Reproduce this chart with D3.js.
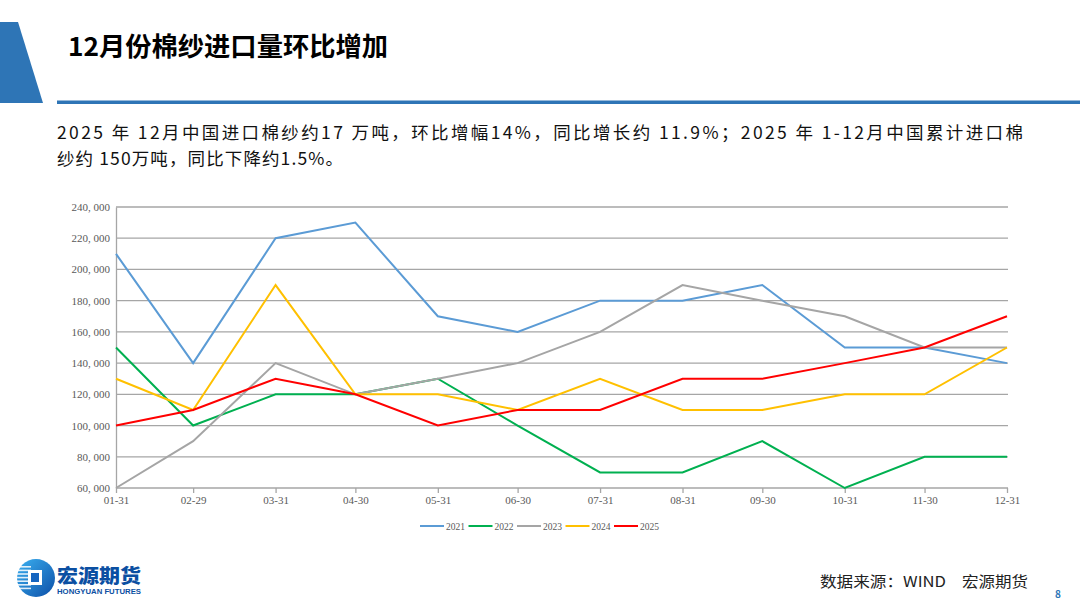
<!DOCTYPE html>
<html><head><meta charset="utf-8">
<script src="https://cdn.jsdelivr.net/npm/d3@7/dist/d3.min.js"></script>
<style>body{margin:0;background:#fff;}svg{display:block;}</style>
</head><body>
<svg id="c" width="1080" height="606"></svg>
<script>
const dates = ["2024-01-31","2024-02-29","2024-03-31","2024-04-30","2024-05-31","2024-06-30","2024-07-31","2024-08-31","2024-09-30","2024-10-31","2024-11-30","2024-12-31"];
const tickLabels = ["01-31","02-29","03-31","04-30","05-31","06-30","07-31","08-31","09-30","10-31","11-30","12-31"];
const yTicks = [60000,80000,100000,120000,140000,160000,180000,200000,220000,240000];
const seriesNames = ["2021","2022","2023","2024","2025"];
const seriesColors = ["#5b9bd5","#00b050","#a5a5a5","#ffc000","#ff0000"];
const v2021 = [210000,140000,220000,230000,170000,160000,180000,180000,190000,150000,150000,140000];
const v2022 = [150000,100000,120000,120000,130000,100000,70000,70000,90000,60000,80000,80000];
const v2023 = [60000,90000,140000,120000,130000,140000,160000,190000,180000,170000,150000,150000];
const v2024 = [130000,110000,190000,120000,120000,110000,130000,110000,110000,120000,120000,150000];
const v2025 = [100000,110000,130000,120000,100000,110000,110000,130000,130000,140000,150000,170000];
const seriesValues = [v2021,v2022,v2023,v2024,v2025];

const svg = d3.select("#c");
const parse = d3.timeParse("%Y-%m-%d");
const dd = dates.map(parse);

// header
svg.append("polygon").attr("points","0,22 18,22 43,103 0,103").attr("fill","#2e75b6");
svg.append("rect").attr("x",57).attr("y",100.5).attr("width",1023).attr("height",3.5).attr("fill","#2e75b6");
svg.append("text").attr("x",68).attr("y",56).attr("font-family","Noto Sans CJK SC").attr("font-weight","bold")
  .attr("font-size",26).attr("fill","#000").attr("textLength",320).attr("lengthAdjust","spacingAndGlyphs")
  .text("12月份棉纱进口量环比增加");

const bodyFont = "Noto Sans CJK SC";
svg.append("text").attr("x",57).attr("y",139).attr("font-family",bodyFont).attr("font-size",17.5).attr("fill","#111")
  .attr("textLength",966).attr("lengthAdjust","spacing")
  .text("2025 年 12月中国进口棉纱约17 万吨，环比增幅14%，同比增长约 11.9%；2025 年 1-12月中国累计进口棉");
svg.append("text").attr("x",57).attr("y",165).attr("font-family",bodyFont).attr("font-size",17.5).attr("fill","#111")
  .attr("textLength",286).attr("lengthAdjust","spacing")
  .text("纱约 150万吨，同比下降约1.5%。");

// chart
const x = d3.scaleTime().domain([dd[0], dd[dd.length-1]]).range([116,1007]);
const y = d3.scaleLinear().domain([60000,240000]).range([488,207]);
const g = svg.append("g");
const axisFont = "Liberation Serif";

// grid
g.selectAll("line.grid").data(yTicks.slice(1)).join("line")
  .attr("x1",116).attr("x2",1008).attr("y1",d=>y(d)).attr("y2",d=>y(d))
  .attr("stroke","#a6a6a6").attr("stroke-width",1.3);

// y axis
const yAxis = d3.axisLeft(y).tickValues(yTicks).tickSize(0).tickPadding(6)
  .tickFormat(d=>d3.format(",")(d).replace(",",", "));
const ya = g.append("g").attr("transform","translate(116,0)").call(yAxis);
ya.select(".domain").attr("stroke","#a6a6a6").attr("stroke-width",1.3);
ya.selectAll("text").attr("font-family",axisFont).attr("font-size",11).attr("fill","#595959");

// x axis
const xAxis = d3.axisBottom(x).tickValues(dd).tickSize(5).tickPadding(3)
  .tickFormat((d,i)=>tickLabels[i]);
const xa = g.append("g").attr("transform","translate(0,488)").call(xAxis);
xa.select(".domain").attr("stroke","#a6a6a6").attr("stroke-width",1.3).attr("d","M116,0H1008");
xa.selectAll(".tick line").attr("stroke","#a6a6a6").attr("stroke-width",1.3);
xa.selectAll("text").attr("font-family",axisFont).attr("font-size",11).attr("fill","#595959");

// lines
const line = d3.line().x((d,i)=>x(dd[i])).y(d=>y(d));
seriesValues.forEach((vals,k)=>{
  g.append("path").datum(vals).attr("d",line).attr("fill","none")
    .attr("stroke",seriesColors[k]).attr("stroke-width",2).attr("stroke-linejoin","miter");
});

// legend
const lg = svg.append("g");
const legX0 = 420, legStep = 48.5;
seriesNames.forEach((n,k)=>{
  const lx = legX0 + k*legStep;
  lg.append("line").attr("x1",lx).attr("x2",lx+24).attr("y1",526).attr("y2",526)
    .attr("stroke",seriesColors[k]).attr("stroke-width",2);
  lg.append("text").attr("x",lx+26).attr("y",529.5).attr("font-family",axisFont).attr("font-size",9.5)
    .attr("fill","#595959").text(n);
});

// footer
svg.append("text").attr("x",820).attr("y",587).attr("font-family","Noto Sans CJK SC").attr("font-size",15)
  .attr("fill","#222").attr("textLength",126).attr("lengthAdjust","spacingAndGlyphs").text("数据来源：WIND");
svg.append("text").attr("x",962).attr("y",587).attr("font-family","Noto Sans CJK SC").attr("font-size",15)
  .attr("fill","#222").attr("textLength",66).attr("lengthAdjust","spacingAndGlyphs").text("宏源期货");
svg.append("text").attr("x",1055).attr("y",598).attr("font-family","Noto Sans CJK SC").attr("font-weight","bold")
  .attr("font-size",10).attr("fill","#2e75b6").text("8");

// logo
const defs = svg.append("defs");
const grad = defs.append("linearGradient").attr("id","lg1").attr("x1","0").attr("y1","0").attr("x2","1").attr("y2","1");
grad.append("stop").attr("offset","0").attr("stop-color","#3ab0f0");
grad.append("stop").attr("offset","1").attr("stop-color","#0d4fa8");
svg.append("circle").attr("cx",36).attr("cy",578).attr("r",19).attr("fill","url(#lg1)");
for(let i=0;i<7;i++){
  svg.append("rect").attr("x",15).attr("y",566+i*3.6).attr("width",16).attr("height",1.6).attr("fill","#fff").attr("opacity",0.85);
}
svg.append("rect").attr("x",28).attr("y",570).attr("width",14).attr("height",15).attr("fill","#fff");
svg.append("rect").attr("x",31).attr("y",573).attr("width",8).attr("height",9).attr("fill","#1565c0");
svg.append("text").attr("x",57).attr("y",583).attr("font-family","Noto Sans CJK SC").attr("font-weight","900")
  .attr("font-size",19).attr("fill","#0b4fa2").attr("textLength",84).attr("lengthAdjust","spacingAndGlyphs").text("宏源期货");
svg.append("text").attr("x",57).attr("y",594).attr("font-family","Liberation Sans").attr("font-weight","bold")
  .attr("font-size",6.5).attr("fill","#0b4fa2").attr("textLength",84).attr("lengthAdjust","spacingAndGlyphs").text("HONGYUAN FUTURES");
</script>
</body></html>
